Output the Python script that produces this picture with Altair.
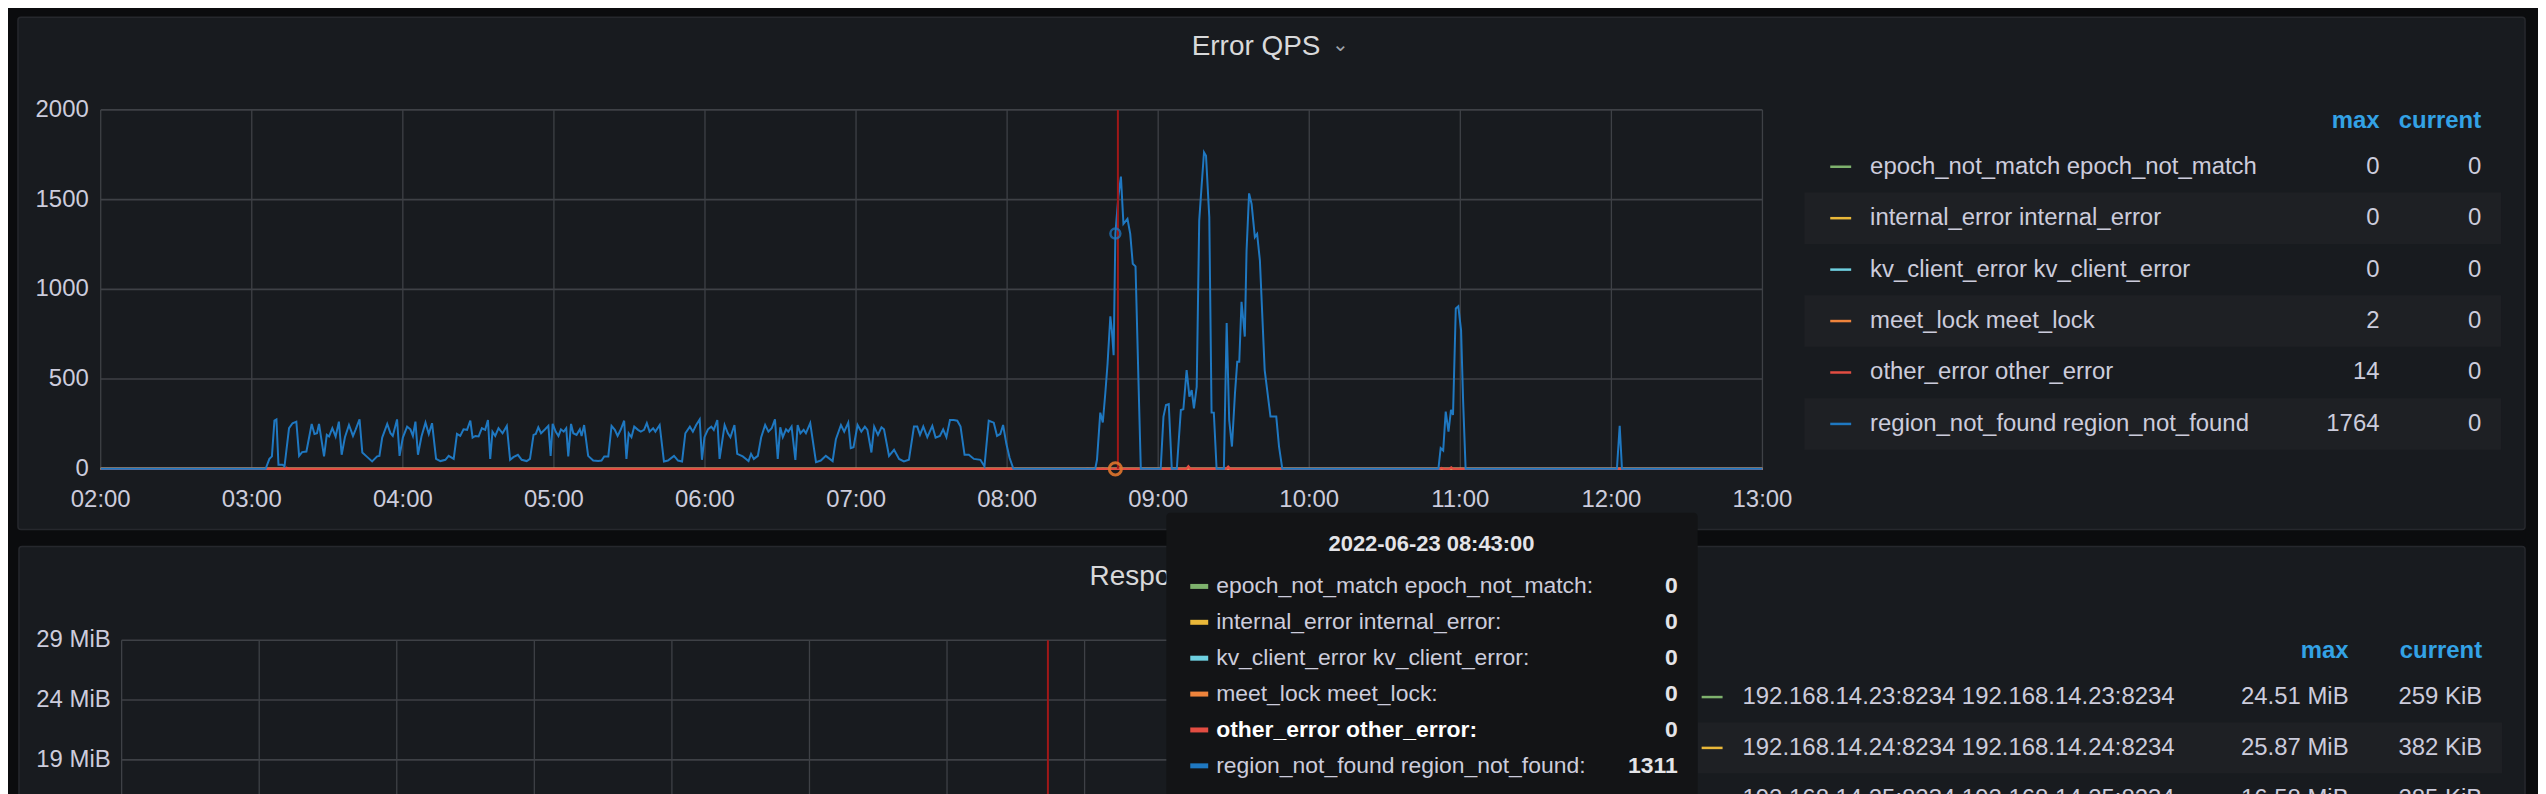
import altair as alt
import pandas as pd

# ---------------- data ----------------
hour_labels = ["02:00", "03:00", "04:00", "05:00", "06:00", "07:00",
               "08:00", "09:00", "10:00", "11:00", "12:00", "13:00"]
hour_minutes = [0, 60, 120, 180, 240, 300, 360, 420, 480, 540, 600, 660]  # minutes after 02:00

qps_ticks = [0, 500, 1000, 1500, 2000]
qps_tick_labels = ["0", "500", "1000", "1500", "2000"]

series_names = ["epoch_not_match", "internal_error", "kv_client_error",
                "meet_lock", "other_error", "region_not_found"]
series_colors = ["#7EB26D", "#EAB839", "#6ED0E0", "#EF843C", "#E24D42", "#1F78C1"]
series_max = ["0", "0", "0", "2", "14", "1764"]
series_current = ["0", "0", "0", "0", "0", "0"]

hover_time_label = "2022-06-23 08:43:00"
hover_values = ["0", "0", "0", "0", "0", "1311"]
hover_minute = 403      # 08:43
cursor_minute = 404     # crosshair position

# region_not_found (minute after 02:00, value)
rnf_points = [
    (0, 0), (65.5, 0), (67, 55), (68, 69), (69, 268), (69.8, 275), (70.6, 22), (72.2, 22), (73, 13),
    (74.8, 226), (76.2, 254), (77.7, 263), (78.8, 72), (80, 93), (81.7, 96), (83.8, 250), (84.9, 194),
    (85.9, 198), (86.7, 250), (88.7, 69), (89.8, 189), (90.7, 180), (92, 226), (93.3, 180), (94.6, 263),
    (95.7, 78), (97, 176), (98.6, 244), (100.2, 183), (101.2, 217), (102.8, 275), (103.9, 91), (105.9, 65),
    (107.8, 41), (109.8, 69), (110.7, 72), (111.8, 174), (113.8, 250), (115.1, 198), (116, 183), (117.7, 275),
    (118.7, 72), (120, 174), (121.7, 235), (123, 220), (124, 183), (125, 263), (126, 78), (127.4, 180),
    (129, 257), (130.3, 194), (131.6, 254), (133.2, 55), (134.9, 43), (136.9, 50), (138.2, 72), (140.2, 55),
    (141.5, 194), (142.8, 183), (144.1, 220), (145.5, 217), (146.8, 268), (147.7, 174), (148.8, 183),
    (150.1, 180), (151.4, 226), (152.7, 217), (153.8, 272), (154.7, 55), (155.6, 207), (156.7, 183),
    (158, 226), (159.6, 198), (161.3, 239), (162.6, 50), (163.9, 65), (165.7, 78), (167.2, 50), (169.2, 43),
    (170.5, 55), (171.9, 189), (172.8, 194), (173.8, 231), (174.9, 198), (176.5, 220), (177.8, 239),
    (178.7, 72), (179.5, 250), (180.7, 207), (181.8, 183), (182.8, 220), (183.9, 207), (184.9, 226),
    (185.7, 69), (186.8, 250), (187.7, 198), (189, 189), (190.3, 220), (191, 183), (192, 244), (193.6, 72),
    (195.6, 46), (197.6, 43), (198.9, 46), (200, 69), (201.6, 69), (202.9, 239), (204.2, 217), (205.3, 183),
    (206.6, 220), (207.9, 268), (208.8, 55), (209.7, 198), (210.8, 176), (211.9, 235), (213.4, 217),
    (214.5, 207), (215.8, 217), (216.9, 254), (218, 207), (219.4, 226), (220.3, 207), (222, 244), (223.7, 41),
    (225.3, 46), (227.7, 72), (229.3, 46), (230.9, 41), (232.2, 198), (234, 235), (235.2, 207), (236.5, 244),
    (237.9, 275), (238.8, 50), (239.8, 176), (241.2, 220), (242.5, 235), (243.5, 217), (244.9, 272),
    (245.8, 55), (247.8, 244), (249.1, 198), (250.1, 176), (251.7, 244), (252.8, 83), (255, 69), (256.3, 55),
    (257.3, 43), (258.3, 83), (259.4, 55), (261, 72), (262.3, 174), (263.9, 244), (265.2, 207), (266.5, 226),
    (267.8, 275), (268.9, 55), (269.9, 231), (270.9, 176), (272.2, 220), (273.1, 207), (274.4, 235),
    (275.9, 50), (276.8, 244), (277.9, 198), (279.2, 217), (280.1, 198), (281.8, 254), (284.1, 37), (286, 46),
    (288, 72), (290.7, 43), (292, 165), (294, 244), (295.3, 207), (296.9, 257), (297.9, 115), (299, 120),
    (300.6, 244), (302.1, 207), (303.5, 235), (304.5, 217), (306.1, 91), (307.2, 235), (308.7, 189),
    (310.1, 231), (311.1, 220), (313.1, 72), (315.1, 106), (317.1, 55), (319, 41), (321, 50), (323, 235),
    (324.3, 235), (325.4, 189), (326.7, 235), (328.3, 176), (330.3, 239), (331.6, 174), (333.3, 183),
    (334.6, 220), (335.9, 176), (337.3, 272), (338.8, 272), (340.2, 268), (341.5, 235), (343.1, 78),
    (344.8, 78), (346.8, 55), (349.4, 50), (351, 13), (352.7, 268), (354.7, 257), (356, 183), (357.3, 194),
    (358.4, 244), (359.7, 139), (361, 60), (362.5, 0),
    (395, 0), (395.7, 50), (397, 313), (398, 258), (399, 421), (399.9, 587), (401, 850), (401.6, 772),
    (402.3, 633), (403, 1311), (404.2, 1520), (405.2, 1628), (406.2, 1365), (407.8, 1393), (408.9, 1309),
    (409.9, 1143), (411, 1128), (412.2, 476), (413.1, 0),
    (421, 0), (422.1, 291), (423.1, 356), (424.2, 361), (425.4, 0), (427.4, 0), (429, 328), (430, 332),
    (431.3, 550), (432.4, 402), (433.3, 439), (434.2, 337), (435.3, 457), (436.3, 1383), (437.3, 1587),
    (438.2, 1764), (439, 1744), (440.3, 1402), (441.2, 313), (442.1, 313), (443.2, 0), (446.1, 0),
    (447.2, 813), (448.2, 272), (449.3, 124), (450.5, 421), (451.4, 596), (452.2, 596), (453.1, 931),
    (453.8, 830), (454.4, 737), (455.1, 1217), (456.1, 1535), (457.1, 1476), (458.4, 1291), (459.3, 1309),
    (460.4, 1161), (462.3, 550), (464.6, 291), (466.9, 291), (468, 124), (469.3, 0),
    (531.3, 0), (532.2, 115), (533.2, 102), (534.2, 319), (535.3, 207), (536.3, 328), (537.1, 300),
    (538.2, 893), (539.2, 906), (540.3, 772), (541.1, 383), (542.1, 0),
    (602.2, 0), (603.3, 239), (604.2, 0), (660, 0),
]
other_error_points = [(0, 0), (73, 0), (73.8, 6), (74.6, 0), (431.2, 0), (432, 14), (432.8, 0),
                      (447, 0), (447.8, 12), (448.6, 0), (531.8, 0), (532.6, 5), (533.4, 0),
                      (535.6, 0), (536.4, 8), (537.2, 0), (660, 0)]
meet_lock_points = [(0, 0), (391.2, 0), (392, 2), (392.8, 0), (397.2, 0), (398, 1), (398.8, 0), (660, 0)]
flat_points = [(0, 0), (660, 0)]

size_grid = [14, 19, 24, 29]
size_ticks = [19, 24, 29]
size_tick_labels = ["19 MiB", "24 MiB", "29 MiB"]
inst_names = ["192.168.14.23:8234", "192.168.14.24:8234", "192.168.14.25:8234"]
inst_colors = ["#7EB26D", "#EAB839", "#6ED0E0"]
inst_max = ["24.51 MiB", "25.87 MiB", "16.58 MiB"]
inst_current = ["259 KiB", "382 KiB", "285 KiB"]

top_title = "Error QPS"
bottom_title = "Response Size"

# ---------------- style ----------------
W, H = 2538, 786
FONT = "Liberation Sans"
PAGE_BG = "#0b0c0e"
PANEL_BG = "#181b1f"
BORDER = "#26282d"
GRID = "#3e4146"
TEXT = "#ccccdc"
HEAD = "#33a2e5"
ROW_BAND = "#1e2024"
TIP_BG = "#131416"
CROSS = "#a01818"

xs_top = alt.Scale(domain=[0, 660], range=[93, 1760], nice=False, zero=False)
ys_top = alt.Scale(domain=[0, 2000], range=[461, 101], nice=False, zero=False)
xs_bot = alt.Scale(domain=[0, 660], range=[114, 1632], nice=False, zero=False)
ys_bot = alt.Scale(domain=[14, 29], range=[813, 633], nice=False, zero=False)
leg_top = alt.Scale(domain=[0, 5], range=[158, 416], nice=False, zero=False)
leg_bot = alt.Scale(domain=[0, 2], range=[690, 792], nice=False, zero=False)
tip_rows = alt.Scale(domain=[0, 5], range=[579, 759], nice=False, zero=False)


def qx(field, scale):
    return alt.X(field, type="quantitative", scale=scale, axis=None)


def qy(field, scale):
    return alt.Y(field, type="quantitative", scale=scale, axis=None)


one = alt.Data(values=[{"a": 1}])


def box(x, x2, y, y2, **mk):
    return alt.Chart(one).mark_rect(**mk).encode(
        x=alt.value(x), x2=alt.value(x2), y=alt.value(y), y2=alt.value(y2))


def label(txt, x, y, **mk):
    return alt.Chart(alt.Data(values=[{"s": txt}])).mark_text(font=FONT, **mk).encode(
        x=alt.value(x), y=alt.value(y), text="s:N")


def pts(points, name):
    return pd.DataFrame({"t": [p[0] for p in points], "v": [p[1] for p in points], "s": name})


L = []

# panels
L.append(box(10, 2525, 8, 522, fill=PANEL_BG, stroke=BORDER, strokeWidth=1.5, cornerRadius=3))
L.append(box(11, 2525, 539, 830, fill=PANEL_BG, stroke=BORDER, strokeWidth=1.5, cornerRadius=3))

# ---------- top panel ----------
hgrid = pd.DataFrame({"v": qps_ticks, "t0": 0, "t1": 660})
L.append(alt.Chart(hgrid).mark_rule(color=GRID, strokeWidth=1.6).encode(
    y=qy("v", ys_top), x=qx("t0", xs_top), x2="t1"))
vgrid = pd.DataFrame({"t": hour_minutes, "lo": 0, "hi": 2000, "lab": hour_labels})
L.append(alt.Chart(vgrid).mark_rule(color=GRID, strokeWidth=1.3).encode(
    x=qx("t", xs_top), y=qy("lo", ys_top), y2="hi"))
ylab = pd.DataFrame({"v": qps_ticks, "lab": qps_tick_labels})
L.append(alt.Chart(ylab).mark_text(font=FONT, fontSize=24, color=TEXT, align="right",
                                   baseline="middle").encode(
    y=qy("v", ys_top), x=alt.value(81), text="lab:N"))
L.append(alt.Chart(vgrid).mark_text(font=FONT, fontSize=24, color=TEXT, align="center",
                                    baseline="middle", dy=31).encode(
    x=qx("t", xs_top), y=qy("lo", ys_top), text="lab:N"))

others = pd.concat([pts(flat_points, series_names[0]), pts(flat_points, series_names[1]),
                    pts(flat_points, series_names[2]), pts(meet_lock_points, series_names[3])])
L.append(alt.Chart(others).mark_line(strokeWidth=2).encode(
    x=qx("t", xs_top), y=qy("v", ys_top),
    color=alt.Color("s:N", scale=alt.Scale(domain=series_names[:4], range=series_colors[:4]), legend=None)))
L.append(alt.Chart(pts(other_error_points, series_names[4])).mark_line(
    strokeWidth=2.2, color=series_colors[4]).encode(x=qx("t", xs_top), y=qy("v", ys_top)))
L.append(alt.Chart(pts(rnf_points, series_names[5])).mark_line(
    strokeWidth=2, color=series_colors[5]).encode(x=qx("t", xs_top), y=qy("v", ys_top)))

cross_top = pd.DataFrame({"t": [cursor_minute], "lo": [0], "hi": [2000]})
L.append(alt.Chart(cross_top).mark_rule(color=CROSS, strokeWidth=2).encode(
    x=qx("t", xs_top), y=qy("lo", ys_top), y2="hi"))
L.append(alt.Chart(pd.DataFrame({"t": [hover_minute], "v": [float(hover_values[5])]})).mark_point(
    filled=False, size=100, strokeWidth=2.5, color=series_colors[5], opacity=0.75).encode(
    x=qx("t", xs_top), y=qy("v", ys_top)))
L.append(alt.Chart(pd.DataFrame({"t": [hover_minute], "v": [0.0]})).mark_point(
    filled=False, size=150, strokeWidth=3, color="#E0752D", opacity=0.9).encode(
    x=qx("t", xs_top), y=qy("v", ys_top)))

L.append(label(top_title, 1252, 38, fontSize=28, color="#d8d9da", align="center", baseline="middle"))
L.append(label("⌄", 1337, 36, fontSize=20, color="#9fa3ab", align="center", baseline="middle"))

# top legend table
legdf = pd.DataFrame({"i": list(range(6)), "name": [f"{n} {n}" for n in series_names],
                      "s": series_names, "mx": series_max, "cur": series_current})
L.append(alt.Chart(legdf).transform_filter("datum.i % 2 == 1").transform_calculate(
    a="datum.i - 0.5", b="datum.i + 0.5").mark_rect(color=ROW_BAND).encode(
    y=qy("a", leg_top), y2="b", x=alt.value(1802), x2=alt.value(2501)))
L.append(alt.Chart(legdf).mark_rule(strokeWidth=2.5).encode(
    y=qy("i", leg_top), x=alt.value(1828), x2=alt.value(1849),
    color=alt.Color("s:N", scale=alt.Scale(domain=series_names, range=series_colors), legend=None)))
L.append(alt.Chart(legdf).mark_text(font=FONT, fontSize=24, color=TEXT, align="left",
                                    baseline="middle").encode(
    y=qy("i", leg_top), x=alt.value(1868), text="name:N"))
L.append(alt.Chart(legdf).mark_text(font=FONT, fontSize=24, color=TEXT, align="right",
                                    baseline="middle").encode(
    y=qy("i", leg_top), x=alt.value(2379), text="mx:N"))
L.append(alt.Chart(legdf).mark_text(font=FONT, fontSize=24, color=TEXT, align="right",
                                    baseline="middle").encode(
    y=qy("i", leg_top), x=alt.value(2481), text="cur:N"))
L.append(label("max", 2379, 112, fontSize=24, fontWeight="bold", color=HEAD, align="right", baseline="middle"))
L.append(label("current", 2481, 112, fontSize=24, fontWeight="bold", color=HEAD, align="right", baseline="middle"))

# ---------- bottom panel ----------
L.append(label(bottom_title, 1085, 570, fontSize=28, color="#d8d9da", align="left", baseline="middle"))
hgrid2 = pd.DataFrame({"v": size_grid, "t0": 0, "t1": 660})
L.append(alt.Chart(hgrid2).mark_rule(color=GRID, strokeWidth=1.6).encode(
    y=qy("v", ys_bot), x=qx("t0", xs_bot), x2="t1"))
vgrid2 = pd.DataFrame({"t": hour_minutes, "lo": 14, "hi": 29})
L.append(alt.Chart(vgrid2).mark_rule(color=GRID, strokeWidth=1.3).encode(
    x=qx("t", xs_bot), y=qy("lo", ys_bot), y2="hi"))
ylab2 = pd.DataFrame({"v": size_ticks, "lab": size_tick_labels})
L.append(alt.Chart(ylab2).mark_text(font=FONT, fontSize=24, color=TEXT, align="right",
                                    baseline="middle").encode(
    y=qy("v", ys_bot), x=alt.value(103), text="lab:N"))
cross_bot = pd.DataFrame({"t": [cursor_minute], "lo": [14], "hi": [29]})
L.append(alt.Chart(cross_bot).mark_rule(color=CROSS, strokeWidth=2).encode(
    x=qx("t", xs_bot), y=qy("lo", ys_bot), y2="hi"))

leg2 = pd.DataFrame({"i": list(range(3)), "name": [f"{n} {n}" for n in inst_names],
                     "s": inst_names, "mx": inst_max, "cur": inst_current})
L.append(alt.Chart(leg2).transform_filter("datum.i % 2 == 1").transform_calculate(
    a="datum.i - 0.5", b="datum.i + 0.5").mark_rect(color=ROW_BAND).encode(
    y=qy("a", leg_bot), y2="b", x=alt.value(1695), x2=alt.value(2502)))
L.append(alt.Chart(leg2).mark_rule(strokeWidth=2.5).encode(
    y=qy("i", leg_bot), x=alt.value(1699), x2=alt.value(1720),
    color=alt.Color("s:N", scale=alt.Scale(domain=inst_names, range=inst_colors), legend=None)))
L.append(alt.Chart(leg2).mark_text(font=FONT, fontSize=24, color=TEXT, align="left",
                                   baseline="middle").encode(
    y=qy("i", leg_bot), x=alt.value(1740), text="name:N"))
L.append(alt.Chart(leg2).mark_text(font=FONT, fontSize=24, color=TEXT, align="right",
                                   baseline="middle").encode(
    y=qy("i", leg_bot), x=alt.value(2348), text="mx:N"))
L.append(alt.Chart(leg2).mark_text(font=FONT, fontSize=24, color=TEXT, align="right",
                                   baseline="middle").encode(
    y=qy("i", leg_bot), x=alt.value(2482), text="cur:N"))
L.append(label("max", 2348, 644, fontSize=24, fontWeight="bold", color=HEAD, align="right", baseline="middle"))
L.append(label("current", 2482, 644, fontSize=24, fontWeight="bold", color=HEAD, align="right", baseline="middle"))

# ---------- hover tooltip ----------
L.append(box(1162, 1695, 505, 830, fill=TIP_BG, cornerRadius=4))
L.append(label(hover_time_label, 1428, 536, fontSize=22, fontWeight="bold", color="#e4e4e8",
               align="center", baseline="middle"))
tipdf = pd.DataFrame({"i": list(range(6)), "name": [f"{n} {n}:" for n in series_names],
                      "s": series_names, "val": hover_values})
L.append(alt.Chart(tipdf).mark_rule(strokeWidth=5).encode(
    y=qy("i", tip_rows), x=alt.value(1186), x2=alt.value(1204),
    color=alt.Color("s:N", scale=alt.Scale(domain=series_names, range=series_colors), legend=None)))
L.append(alt.Chart(tipdf).transform_filter("datum.i != 4").mark_text(
    font=FONT, fontSize=23, color=TEXT, align="left", baseline="middle").encode(
    y=qy("i", tip_rows), x=alt.value(1212), text="name:N"))
L.append(alt.Chart(tipdf).transform_filter("datum.i == 4").mark_text(
    font=FONT, fontSize=23, fontWeight="bold", color="#ffffff", align="left", baseline="middle").encode(
    y=qy("i", tip_rows), x=alt.value(1212), text="name:N"))
L.append(alt.Chart(tipdf).mark_text(
    font=FONT, fontSize=23, fontWeight="bold", color="#e4e4e8", align="right", baseline="middle").encode(
    y=qy("i", tip_rows), x=alt.value(1675), text="val:N"))

chart = alt.layer(*L).properties(
    width=W, height=H, padding=0, background=PAGE_BG,
    autosize=alt.AutoSizeParams(type="none"),
).resolve_scale(x="independent", y="independent", color="independent").configure_view(stroke=None)

chart.save("out.html", embed_options={"renderer": "svg", "actions": False})
